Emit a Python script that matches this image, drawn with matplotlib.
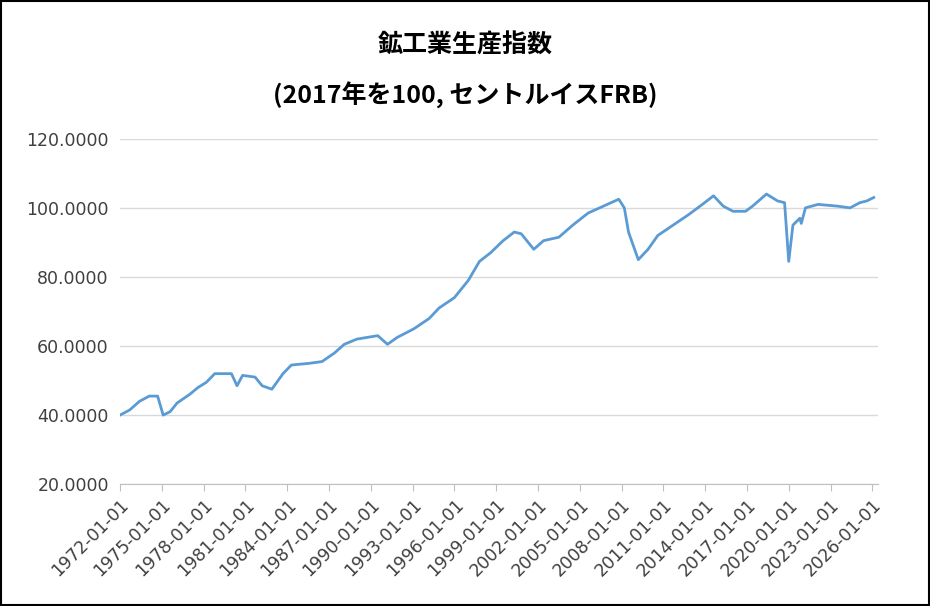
import matplotlib

matplotlib.use("Agg")
import matplotlib.pyplot as plt
import numpy as np
import datetime as dt

plt.rcParams['font.family'] = ['DejaVu Sans', 'Noto Sans CJK JP']

# values (decimal year, index)
years = [1972.0, 1972.7, 1973.4, 1974.1, 1974.7, 1975.1, 1975.6, 1976.1, 1977.0, 1977.6,
         1978.2, 1978.8, 1980.0, 1980.4, 1980.8, 1981.7, 1982.2, 1982.9, 1983.7, 1984.3,
         1985.6, 1986.5, 1987.4, 1988.1, 1989.0, 1990.5, 1991.2, 1991.9, 1993.1, 1994.2,
         1994.9, 1996.0, 1997.0, 1997.8, 1998.6, 1999.5, 2000.3, 2000.8, 2001.7, 2002.4,
         2003.5, 2004.5, 2005.6, 2006.7, 2007.8, 2008.2, 2008.5, 2009.2, 2009.9, 2010.6,
         2011.7, 2012.8, 2013.8, 2014.6, 2015.3, 2016.0, 2016.9, 2017.4, 2018.4, 2019.2,
         2019.7, 2020.0, 2020.3, 2020.8, 2020.9, 2021.2, 2022.1, 2023.5, 2024.4, 2025.1,
         2025.6, 2026.1]
index = [40.0, 41.5, 44.0, 45.5, 45.5, 40.0, 41.0, 43.5, 46.0, 48.0,
         49.5, 52.0, 52.0, 48.5, 51.5, 51.0, 48.5, 47.5, 52.0, 54.5,
         55.0, 55.5, 58.0, 60.5, 62.0, 63.0, 60.5, 62.5, 65.0, 68.0,
         71.0, 74.0, 79.0, 84.5, 87.0, 90.5, 93.0, 92.5, 88.0, 90.5,
         91.5, 95.0, 98.5, 100.5, 102.5, 100.0, 93.0, 85.0, 88.0, 92.0,
         95.0, 98.0, 101.0, 103.5, 100.5, 99.0, 99.0, 100.5, 104.0, 102.0,
         101.5, 84.5, 95.0, 97.0, 95.5, 100.0, 101.0, 100.5, 100.0, 101.5,
         102.0, 103.0]
tick_years = list(range(1972, 2027, 3))


def to_date(y):
    yr = int(y)
    return dt.datetime(yr, 1, 1) + dt.timedelta(days=(y - yr) * 365.25)


dates = [to_date(y) for y in years]

fig = plt.figure(figsize=(9.3, 6.06), dpi=100, facecolor="white")
ax = fig.add_axes([0.129, 0.201, 0.815, 0.570])
ax.plot(dates, index, color="#5B9BD5", linewidth=2)

ax.set_ylim(20, 120)
ax.set_yticks(np.arange(20, 121, 20))
ax.set_yticklabels([f"{v:.4f}" for v in np.arange(20, 121, 20)], fontsize=12.5, color="#404040")
ax.grid(axis="y", color="#D9D9D9", linewidth=1)
ax.set_axisbelow(True)
ax.tick_params(axis="y", length=0, pad=8)

ax.set_xlim(dt.datetime(1972, 1, 1), to_date(2026.4))
ax.set_xticks([dt.datetime(y, 1, 1) for y in tick_years])
ax.set_xticklabels([f"{y}-01-01" for y in tick_years], rotation=45, ha="right",
                   rotation_mode="anchor", fontsize=12.5, color="#404040")
ax.tick_params(axis="x", length=5, color="#BFBFBF", direction="out")
for spn in ("top", "right", "left"):
    ax.spines[spn].set_visible(False)
ax.spines["bottom"].set_color("#BFBFBF")

cjk = ['Noto Sans CJK JP', 'DejaVu Sans']
fig.text(0.5, 0.925, "鉱工業生産指数", ha="center", va="center", fontsize=18,
         fontweight="bold", family=cjk)
fig.text(0.5, 0.843, "(2017年を100, セントルイスFRB)", ha="center", va="center",
         fontsize=18, fontweight="bold", family=cjk)

fig.patches.append(plt.Rectangle((0.001, 0.001), 0.998, 0.997, transform=fig.transFigure,
                                 fill=False, edgecolor="black", linewidth=1.5))
fig.savefig("out.png", dpi=100)
